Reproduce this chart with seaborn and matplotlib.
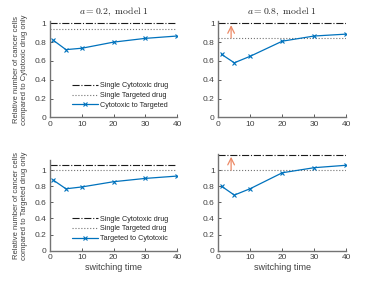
import numpy as np
import pandas as pd
import matplotlib
matplotlib.use("Agg")
import matplotlib.pyplot as plt
import seaborn as sns

# switching times
switch_time = [1, 5, 10, 20, 30, 40]

# top row: relative to cytotoxic-only
ct_a02 = [0.82, 0.72, 0.735, 0.80, 0.84, 0.865]
ct_a08 = [0.67, 0.58, 0.65, 0.81, 0.865, 0.885]
cyto_ref_top = [1.0, 1.0]
targ_ref_top = [0.94, 0.845]

# bottom row: relative to targeted-only
tc_a02 = [0.875, 0.767, 0.79, 0.855, 0.896, 0.925]
tc_a08 = [0.80, 0.69, 0.77, 0.967, 1.03, 1.06]
cyto_ref_bot = [1.065, 1.185]
targ_ref_bot = [1.0, 1.0]

titles = [r"$a = 0.2,\ \mathrm{model\ 1}$", r"$a = 0.8,\ \mathrm{model\ 1}$"]

sns.set_theme(style="ticks")
plt.rcParams["mathtext.fontset"] = "cm"
plt.rcParams["font.family"] = ["Liberation Sans", "DejaVu Sans"]

BLUE = "#0072BD"
ARROW = "#ec8a66"
AXC = "0.45"
FS = 6

fig = plt.figure(figsize=(3.82, 2.82), dpi=100)

# axes positions (fig fraction)
pos = {
    (0, 0): [0.131, 0.584, 0.333, 0.340],
    (0, 1): [0.5715, 0.584, 0.335, 0.340],
    (1, 0): [0.131, 0.111, 0.333, 0.3205],
    (1, 1): [0.5715, 0.111, 0.335, 0.343],
}
ylims = {(0, 0): 1.02, (0, 1): 1.02, (1, 0): 1.12, (1, 1): 1.2}

rows = [
    (ct_a02, ct_a08, cyto_ref_top, targ_ref_top, "Cytotoxic to Targeted",
     "Relative number of cancer cells\ncompared to Cytotoxic drug only"),
    (tc_a02, tc_a08, cyto_ref_bot, targ_ref_bot, "Targeted to Cytotoxic",
     "Relative number of cancer cells\ncompared to Targeted drug only"),
]

for r, (s02, s08, cref, tref, lab, ylab) in enumerate(rows):
    for c, series in enumerate([s02, s08]):
        ax = fig.add_axes(pos[(r, c)])
        df = pd.DataFrame({"t": switch_time, "v": series})
        ax.axhline(cref[c], color="k", linestyle="-.", linewidth=0.8,
                   label="Single Cytotoxic drug")
        ax.axhline(tref[c], color="0.45", linestyle=":", linewidth=0.8,
                   label="Single Targeted drug")
        sns.lineplot(data=df, x="t", y="v", ax=ax, color=BLUE, marker="x",
                     markersize=3, markeredgewidth=0.8, markeredgecolor=BLUE,
                     linewidth=0.9, label=lab)
        ax.set_xlim(0, 40)
        ax.set_ylim(0, ylims[(r, c)])
        ax.set_xticks([0, 10, 20, 30, 40])
        ax.set_yticks([0, 0.2, 0.4, 0.6, 0.8, 1.0])
        ax.set_yticklabels(["0", "0.2", "0.4", "0.6", "0.8", "1"])
        ax.tick_params(labelsize=FS, colors="0.25", length=2, width=0.6,
                       direction="in", pad=2.5)
        for sp in ["top", "right"]:
            ax.spines[sp].set_visible(False)
        for sp in ["left", "bottom"]:
            ax.spines[sp].set_color(AXC)
            ax.spines[sp].set_linewidth(1.0)
        ax.set_xlabel("switching time" if r == 1 else "", fontsize=6.5,
                      color="0.25", labelpad=1.5)
        ax.set_ylabel(ylab if c == 0 else "", fontsize=5.5, color="0.25",
                      labelpad=5, linespacing=1.1)
        if r == 0:
            ax.set_title(titles[c], fontsize=7, pad=5)
        if c == 0:
            ax.legend(loc="lower right", frameon=False, fontsize=5.2,
                      handlelength=3.6, borderaxespad=0.8, labelspacing=0.35,
                      handletextpad=0.3)
        else:
            if ax.get_legend():
                ax.get_legend().remove()
            ax.annotate("", xy=(4, cref[c] - 0.02), xytext=(4, tref[c]),
                        arrowprops=dict(arrowstyle="->", color=ARROW,
                                        lw=0.9, shrinkA=0, shrinkB=0))

fig.savefig("out.png", dpi=100)
